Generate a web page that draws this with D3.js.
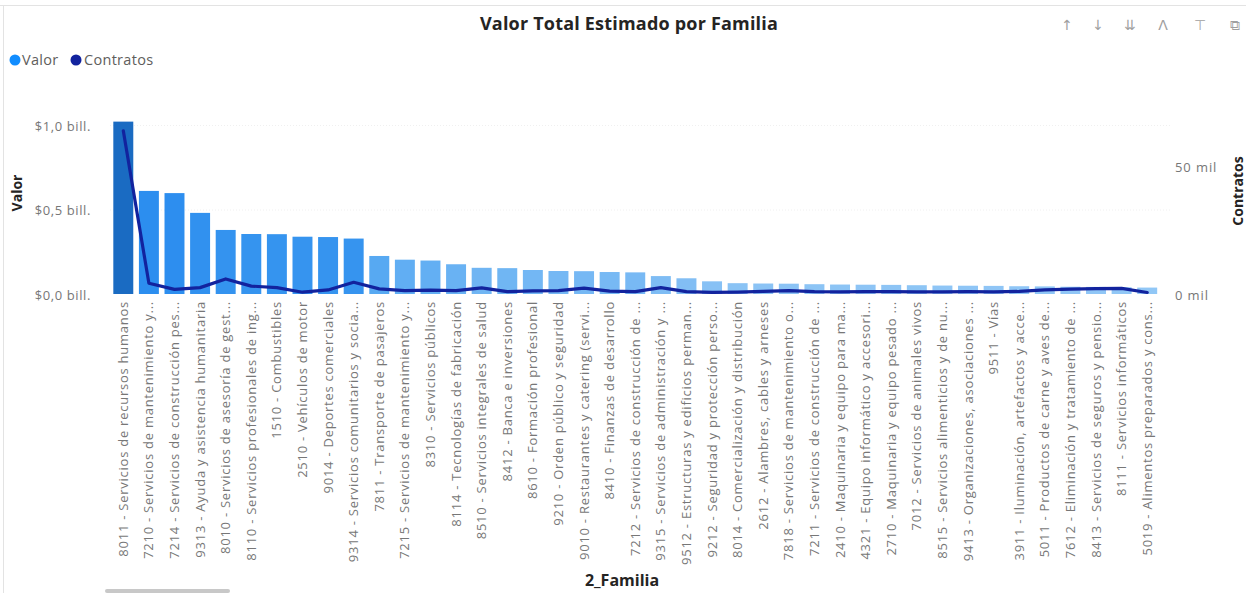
<!DOCTYPE html>
<html>
<head>
<meta charset="utf-8">
<script src="https://cdn.jsdelivr.net/npm/d3@7"></script>
<style>
  html, body { margin: 0; padding: 0; background: #fff; }
  svg { display: block; font-family: "Segoe UI", "Open Sans", "Noto Sans", sans-serif; }
</style>
</head>
<body>
<svg id="chart" width="1246" height="593"></svg>
<script>
const categories = [
  "8011 - Servicios de recursos humanos",
  "7210 - Servicios de mantenimiento y...",
  "7214 - Servicios de construcción pes...",
  "9313 - Ayuda y asistencia humanitaria",
  "8010 - Servicios de asesoría de gest...",
  "8110 - Servicios profesionales de ing...",
  "1510 - Combustibles",
  "2510 - Vehículos de motor",
  "9014 - Deportes comerciales",
  "9314 - Servicios comunitarios y socia...",
  "7811 - Transporte de pasajeros",
  "7215 - Servicios de mantenimiento y...",
  "8310 - Servicios públicos",
  "8114 - Tecnologías de fabricación",
  "8510 - Servicios integrales de salud",
  "8412 - Banca e inversiones",
  "8610 - Formación profesional",
  "9210 - Orden público y seguridad",
  "9010 - Restaurantes y catering (servi...",
  "8410 - Finanzas de desarrollo",
  "7212 - Servicios de construcción de ...",
  "9315 - Servicios de administración y ...",
  "9512 - Estructuras y edificios perman...",
  "9212 - Seguridad y protección perso...",
  "8014 - Comercialización y distribución",
  "2612 - Alambres, cables y arneses",
  "7818 - Servicios de mantenimiento o...",
  "7211 - Servicios de construcción de ...",
  "2410 - Maquinaria y equipo para ma...",
  "4321 - Equipo informático y accesori...",
  "2710 - Maquinaria y equipo pesado ...",
  "7012 - Servicios de animales vivos",
  "8515 - Servicios alimenticios y de nu...",
  "9413 - Organizaciones, asociaciones ...",
  "9511 - Vías",
  "3911 - Iluminación, artefactos y acce...",
  "5011 - Productos de carne y aves de...",
  "7612 - Eliminación y tratamiento de ...",
  "8413 - Servicios de seguros y pensio...",
  "8111 - Servicios informáticos",
  "5019 - Alimentos preparados y cons..."
];
// Valor, in billones
const valor = [
  1.02, 0.61, 0.597, 0.48, 0.379, 0.355, 0.354, 0.339, 0.337, 0.328,
  0.225, 0.203, 0.198, 0.176, 0.155, 0.153, 0.142, 0.136, 0.135, 0.130,
  0.128, 0.106, 0.093, 0.075, 0.064, 0.062, 0.061, 0.058, 0.056, 0.055,
  0.054, 0.052, 0.050, 0.049, 0.048, 0.046, 0.045, 0.043, 0.042, 0.040,
  0.038
];
// Contratos, in miles
const contratos = [
  64, 4.2, 1.8, 2.5, 5.9, 3.1, 2.5, 0.7, 1.6, 4.6,
  2.0, 1.3, 1.5, 1.3, 2.4, 0.9, 1.2, 1.3, 2.3, 1.1,
  0.9, 2.5, 0.9, 0.6, 0.7, 1.0, 1.3, 0.9, 0.8, 0.9,
  0.9, 0.8, 0.8, 0.9, 0.8, 1.0, 1.6, 1.9, 2.1, 2.2,
  0.6
];
const leftTicks = [0, 0.5, 1.0];
const leftTickLabels = ["$0,0 bill.", "$0,5 bill.", "$1,0 bill."];
const rightTicks = [0, 50];
const rightTickLabels = ["0 mil", "50 mil"];

const FONT = "'Segoe UI', 'Open Sans', 'Noto Sans', sans-serif";
const svg = d3.select("#chart");
svg.append("rect").attr("width", 1246).attr("height", 593).attr("fill", "#fff");

// frame
svg.append("line").attr("x1", 0).attr("x2", 1246).attr("y1", 5.5).attr("y2", 5.5)
  .attr("stroke", "#e3e3e3").attr("stroke-width", 1);
svg.append("line").attr("x1", 3.5).attr("x2", 3.5).attr("y1", 5).attr("y2", 593)
  .attr("stroke", "#e3e3e3").attr("stroke-width", 1);

const x = d3.scaleBand().domain(categories).range([110.5, 1160]).paddingInner(0.22).paddingOuter(0.11);
const y = d3.scaleLinear().domain([0, 1.0]).range([294, 125]);
const y2 = d3.scaleLinear().domain([0, 50]).range([294, 166.5]);

const color = d3.scaleLinear()
  .domain([0, 0.1, 0.2, 0.3, 0.65, 1.0])
  .range(["#9ccdf7", "#80bdf4", "#62aff3", "#3795ef", "#2b8def", "#1b6dc4"]);

// gridlines
svg.append("g").selectAll("line").data(leftTicks.filter(d => d > 0)).join("line")
  .attr("x1", 110).attr("x2", 1172)
  .attr("y1", d => y(d) + 0.5).attr("y2", d => y(d) + 0.5)
  .attr("stroke", "#f0f0f0").attr("stroke-dasharray", "1,2");

// bars
svg.append("g").selectAll("rect").data(categories).join("rect")
  .attr("x", d => x(d))
  .attr("width", x.bandwidth())
  .attr("y", (d, i) => y(valor[i]))
  .attr("height", (d, i) => y(0) - y(valor[i]))
  .attr("fill", (d, i) => color(valor[i]));

// line
const line = d3.line()
  .x((d, i) => x(categories[i]) + x.bandwidth() / 2)
  .y(d => y2(d));
svg.append("path").datum(contratos)
  .attr("d", line)
  .attr("fill", "none")
  .attr("stroke", "#12239e")
  .attr("stroke-width", 3.2)
  .attr("stroke-linejoin", "round")
  .attr("stroke-linecap", "round");

// left axis
const leftAxis = d3.axisLeft(y).tickValues(leftTicks)
  .tickFormat((d, i) => leftTickLabels[i]).tickSize(0).tickPadding(0);
const gl = svg.append("g").attr("transform", "translate(91,1)").call(leftAxis);
gl.select(".domain").remove();
gl.selectAll("text").attr("fill", "#777").attr("font-size", 13).attr("letter-spacing", 0.6)
  .attr("font-family", FONT);

// right axis
const rightAxis = d3.axisRight(y2).tickValues(rightTicks)
  .tickFormat((d, i) => rightTickLabels[i]).tickSize(0).tickPadding(0);
const gr = svg.append("g").attr("transform", "translate(1175,1)").call(rightAxis);
gr.select(".domain").remove();
gr.selectAll("text").attr("fill", "#777").attr("font-size", 13).attr("letter-spacing", 0.9)
  .attr("font-family", FONT);

// bottom axis
const bottomAxis = d3.axisBottom(x).tickSize(0).tickPadding(0);
const gb = svg.append("g").attr("transform", "translate(0,301)").call(bottomAxis);
gb.select(".domain").remove();
gb.selectAll("text")
  .attr("fill", "#777").attr("font-size", 13).attr("letter-spacing", 0.75)
  .attr("font-family", FONT)
  .attr("text-anchor", "end")
  .attr("transform", "rotate(-90)")
  .attr("x", 0).attr("y", 0).attr("dy", "0.35em");

// title
svg.append("text").attr("x", 629).attr("y", 30).attr("text-anchor", "middle")
  .attr("font-size", 18).attr("font-weight", 700).attr("fill", "#252423")
  .attr("letter-spacing", 0.2)
  .text("Valor Total Estimado por Familia");

// legend
const legend = svg.append("g").attr("font-family", FONT);
legend.append("circle").attr("cx", 15).attr("cy", 60).attr("r", 5.5).attr("fill", "#118dff");
legend.append("text").attr("x", 22).attr("y", 65).attr("font-size", 14.5).attr("letter-spacing", 0.3)
  .attr("fill", "#605e5c").text("Valor");
legend.append("circle").attr("cx", 76).attr("cy", 60).attr("r", 5.5).attr("fill", "#12239e");
legend.append("text").attr("x", 84).attr("y", 65).attr("font-size", 14.5).attr("letter-spacing", 0.3)
  .attr("fill", "#605e5c").text("Contratos");

// axis titles
svg.append("text").attr("transform", "translate(22,193) rotate(-90)").attr("text-anchor", "middle")
  .attr("font-size", 14).attr("font-weight", 700).attr("fill", "#252423").text("Valor");
svg.append("text").attr("transform", "translate(1243,191) rotate(-90)").attr("text-anchor", "middle")
  .attr("font-size", 14).attr("font-weight", 700).attr("fill", "#252423").text("Contratos");
svg.append("text").attr("x", 622).attr("y", 586).attr("text-anchor", "middle")
  .attr("font-size", 16).attr("font-weight", 700).attr("fill", "#252423").text("2_Familia");

// scrollbar
svg.append("rect").attr("x", 105).attr("y", 589).attr("width", 125).attr("height", 4)
  .attr("rx", 2).attr("fill", "#c8c8c8");

// header icons
const icons = [
  {x: 1067, t: "↑"}, {x: 1098, t: "↓"}, {x: 1130, t: "⇊"},
  {x: 1163, t: "ⴷ"}, {x: 1200, t: "⊤"}, {x: 1235, t: "⧉"}
];
svg.append("g").selectAll("text").data(icons).join("text")
  .attr("x", d => d.x).attr("y", 30).attr("text-anchor", "middle")
  .attr("font-size", 14).attr("fill", "#a0a0a0")
  .attr("font-family", "'DejaVu Sans', sans-serif")
  .text(d => d.t);
</script>
</body>
</html>
